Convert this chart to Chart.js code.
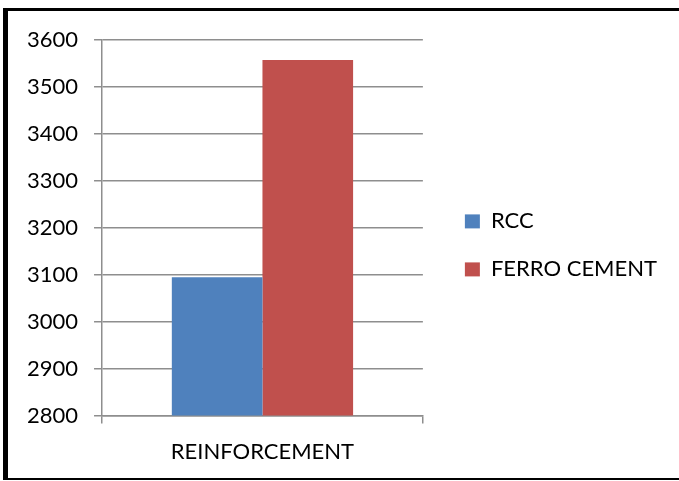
<!DOCTYPE html>
<html>
<head>
<meta charset="utf-8">
<script src="https://cdn.jsdelivr.net/npm/chart.js@4"></script>
<style>
  html, body { margin: 0; padding: 0; background: #fff; overflow: hidden; }
  #frame {
    position: absolute; left: 3px; top: 8px;
    border-left: 5px solid #000; border-top: 3px solid #000; border-bottom: 2px solid #000;
    width: 671px; height: 467px;
  }
  #wrap { position: relative; width: 671px; height: 467px; }
</style>
</head>
<body>
<div id="frame"><div id="wrap"><canvas id="bar-chart"></canvas></div></div>
<script>
const categories = ["REINFORCEMENT"];
const rccValues = [3095];
const ferroValues = [3558];
const yMin = 2800;
const yMax = 3600;
const yStep = 100;

const textColor = "#000";
const gridColor = "#8e8e8e";

Chart.defaults.font.family = "Lato";
Chart.defaults.font.size = 22;
Chart.defaults.color = textColor;

function drawChart() {
    const barCtx = document.getElementById("bar-chart");
    new Chart(barCtx, {
        type: "bar",
        data: {
            labels: categories,
            datasets: [
                {
                    label: "RCC",
                    data: rccValues,
                    backgroundColor: "#4F81BD",
                    barPercentage: 1,
                    categoryPercentage: 0.565,
                },
                {
                    label: "FERRO CEMENT",
                    data: ferroValues,
                    backgroundColor: "#C0504D",
                    barPercentage: 1,
                    categoryPercentage: 0.565,
                },
            ],
        },
        options: {
            responsive: true,
            maintainAspectRatio: false,
            animation: false,
            layout: { padding: { left: 3, top: 20, right: 12, bottom: -2 } },
            plugins: {
                legend: {
                    position: "right",
                    align: "start",
                    maxWidth: 300,
                    title: { display: true, text: "", padding: { top: 127, bottom: 0 } },
                    labels: { boxWidth: 15, boxHeight: 14, padding: 26, color: textColor },
                },
                tooltip: { enabled: false },
            },
            scales: {
                x: {
                    grid: { drawOnChartArea: false, color: gridColor, lineWidth: 1.5, tickLength: 8 },
                    border: { color: gridColor, width: 1.5 },
                    ticks: { color: textColor, padding: 15 },
                },
                y: {
                    min: yMin,
                    max: yMax,
                    ticks: { stepSize: yStep, color: textColor, padding: 16, callback: (v) => String(v) },
                    grid: { color: gridColor, lineWidth: 1.5, tickLength: 8 },
                    border: { color: gridColor, width: 1.5 },
                },
                gap: {
                    position: "right",
                    display: true,
                    grid: { display: false },
                    border: { display: false },
                    ticks: { display: false },
                    afterFit: (scale) => { scale.width = 16; },
                },
            },
        },
    });
}

document.fonts.load("22px Lato").then(drawChart, drawChart);
</script>
</body>
</html>
